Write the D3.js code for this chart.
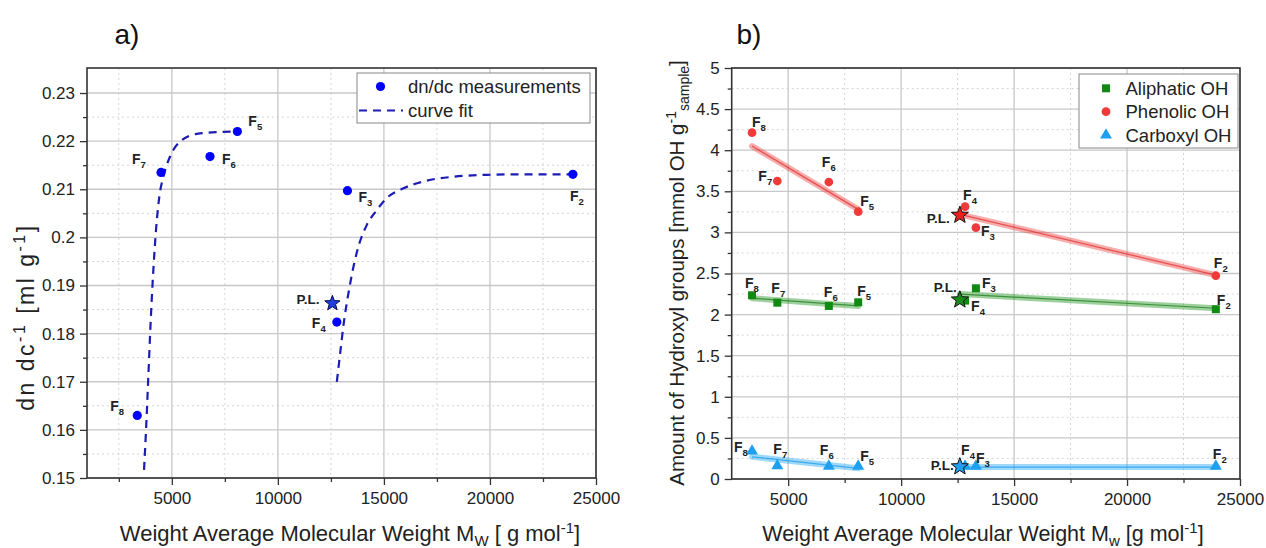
<!DOCTYPE html>
<html><head><meta charset="utf-8">
<script src="https://cdn.jsdelivr.net/npm/d3@7"></script>
<style>
body{margin:0;background:#fff;}
svg{display:block;font-family:Arial,"Liberation Sans",Helvetica,sans-serif;}
</style>
</head><body>
<svg id="chart" width="1266" height="548"></svg>
<script>
// ---------------- DATA: panel a ----------------
const fracA = ["2","3","4","5","6","7","8"];
const mwA = [23910, 13280, 12780, 8090, 6800, 4490, 3370];
const dndcA = [0.2131, 0.2097, 0.1824, 0.2220, 0.2168, 0.2135, 0.1630];
const plMwA = 12570;
const plDndcA = 0.1863;
const fit1Mw = [3689, 3784, 3892, 4005, 4128, 4255, 4411, 4600, 4916, 5388, 6176, 7275, 8060];
const fit1Y  = [0.1517, 0.1600, 0.1711, 0.1828, 0.1932, 0.2016, 0.2085, 0.2126, 0.2168, 0.2199, 0.2215, 0.2219, 0.2220];
const fit2Mw = [12780, 12936, 13125, 13328, 13564, 13847, 14196, 14668, 15140, 15923, 17027, 18282, 19858, 21428, 23900];
const fit2Y  = [0.1700, 0.1759, 0.1828, 0.1884, 0.1939, 0.1988, 0.2026, 0.2057, 0.2082, 0.2102, 0.2118, 0.2126, 0.2130, 0.2131, 0.2131];
const xTicksA = [5000, 10000, 15000, 20000, 25000];
const xTickLabelsA = ["5000", "10000", "15000", "20000", "25000"];
const xMinorA = [2500, 7500, 12500, 17500, 22500];
const yTicksA = [0.15, 0.16, 0.17, 0.18, 0.19, 0.20, 0.21, 0.22, 0.23];
const yTickLabelsA = ["0.15", "0.16", "0.17", "0.18", "0.19", "0.2", "0.21", "0.22", "0.23"];
const yMinorA = [0.155, 0.165, 0.175, 0.185, 0.195, 0.205, 0.215, 0.225];

// ---------------- DATA: panel b ----------------
const fracB = ["2","3","4","5","6","7","8"];
const mwB = [23930, 13310, 12830, 8100, 6800, 4520, 3400];
const aliphatic = [2.065, 2.320, 2.170, 2.150, 2.105, 2.145, 2.235];
const phenolic  = [2.473, 3.057, 3.313, 3.252, 3.613, 3.625, 4.213];
const carboxyl  = [0.155, 0.155, 0.155, 0.155, 0.155, 0.160, 0.340];
const plMwB = 12600;
const plAliphatic = 2.18, plPhenolic = 3.21, plCarboxyl = 0.15;
// linear-fit bands: [x1, y1, x2, y2]
const fitAliphatic = [[3400, 2.20, 8100, 2.105], [12600, 2.25, 23930, 2.077]];
const fitPhenolic  = [[3400, 4.05, 8100, 3.28], [12600, 3.22, 23930, 2.48]];
const fitCarboxyl  = [[3400, 0.27, 8100, 0.13], [12600, 0.145, 23930, 0.145]];
const xTicksB = [5000, 10000, 15000, 20000, 25000];
const xTickLabelsB = ["5000", "10000", "15000", "20000", "25000"];
const xMinorB = [7500, 12500, 17500, 22500];
const yTicksB = [0, 0.5, 1, 1.5, 2, 2.5, 3, 3.5, 4, 4.5, 5];
const yTickLabelsB = ["0", "0.5", "1", "1.5", "2", "2.5", "3", "3.5", "4", "4.5", "5"];
const yMinorB = [0.25, 0.75, 1.25, 1.75, 2.25, 2.75, 3.25, 3.75, 4.25, 4.75];

// ---------------- LAYOUT (label offsets in px, per fraction F2..F8) ----------------
const offA = [[-3, 27], [11, 11], [-25, 6], [11, -6], [12, 7], [-29, -8], [-27, -4]];
const offAli = [[1, -4], [6, 0], [6, 10], [-1, -6], [-5, -9], [-6, -10], [-7, -7]];
const offPhe = [[-2, -8], [5, 8], [-2, -7], [2, -6], [-7, -15], [-19, 0], [0, -6]];
const offCar = [[-3, -7], [0, -3], [-4, -11], [2, -5], [-9, -11], [-4, -12], [-18, 1]];

const svg = d3.select("#chart");
const TXT = "#222";

function fLabel(g, x, y, sub, size) {
  size = size || 14;
  const t = g.append("text").attr("x", x).attr("y", y)
    .attr("font-size", size).attr("font-weight", "bold").attr("fill", TXT);
  t.append("tspan").text("F");
  t.append("tspan").attr("font-size", size * 0.68).attr("dy", 4).text(sub);
}
function plLabel(g, x, y) {
  g.append("text").attr("x", x).attr("y", y).attr("font-size", 13.5)
    .attr("font-weight", "bold").attr("fill", TXT).text("P.L.");
}

function drawFrame(g, x, y, minorX, minorY, xt, xtl, yt, ytl, left, right, top, bottom) {
  g.append("g").selectAll("line").data(minorX).join("line")
    .attr("x1", d => x(d)).attr("x2", d => x(d)).attr("y1", top).attr("y2", bottom)
    .attr("stroke", "#d4d4d4").attr("stroke-dasharray", "2,3").attr("stroke-width", 1);
  g.append("g").selectAll("line").data(minorY).join("line")
    .attr("y1", d => y(d)).attr("y2", d => y(d)).attr("x1", left).attr("x2", right)
    .attr("stroke", "#d4d4d4").attr("stroke-dasharray", "2,3").attr("stroke-width", 1);
  g.append("g").selectAll("line").data(xt).join("line")
    .attr("x1", d => x(d)).attr("x2", d => x(d)).attr("y1", top).attr("y2", bottom)
    .attr("stroke", "#c8c8c8").attr("stroke-width", 1.3);
  g.append("g").selectAll("line").data(yt).join("line")
    .attr("y1", d => y(d)).attr("y2", d => y(d)).attr("x1", left).attr("x2", right)
    .attr("stroke", "#c8c8c8").attr("stroke-width", 1.3);
  const ax = g.append("g").attr("transform", `translate(0,${bottom})`)
    .call(d3.axisBottom(x).tickValues(xt).tickFormat((d, i) => xtl[i]).tickSize(7).tickPadding(7));
  const axm = g.append("g").attr("transform", `translate(0,${bottom})`)
    .call(d3.axisBottom(x).tickValues(minorX).tickFormat("").tickSize(4));
  const ay = g.append("g").attr("transform", `translate(${left},0)`)
    .call(d3.axisLeft(y).tickValues(yt).tickFormat((d, i) => ytl[i]).tickSize(7).tickPadding(5));
  const aym = g.append("g").attr("transform", `translate(${left},0)`)
    .call(d3.axisLeft(y).tickValues(minorY).tickFormat("").tickSize(4));
  [ax, axm, ay, aym].forEach(a => {
    a.select(".domain").remove();
    a.selectAll(".tick line").attr("stroke", "#333").attr("stroke-width", 1.3);
    a.selectAll("text").attr("font-size", 17).attr("fill", TXT).attr("font-family", "Arial, Liberation Sans, sans-serif");
  });
  g.append("rect").attr("x", left).attr("y", top).attr("width", right - left).attr("height", bottom - top)
    .attr("fill", "none").attr("stroke", "#333").attr("stroke-width", 1.6);
}

function star(cx, cy, r) {
  const pts = [];
  for (let i = 0; i < 10; i++) {
    const ang = -Math.PI / 2 + i * Math.PI / 5;
    const rr = i % 2 === 0 ? r : r * 0.42;
    pts.push([cx + rr * Math.cos(ang), cy + rr * Math.sin(ang)]);
  }
  return "M" + pts.map(p => p.join(",")).join("L") + "Z";
}

// ================= PANEL A =================
{
  const L = 87, R = 596, T = 68, B = 478;
  const x = d3.scaleLinear().domain([1000, 25000]).range([L, R]);
  const y = d3.scaleLinear().domain([0.15, 0.2352]).range([B, T]);
  const g = svg.append("g");
  drawFrame(g, x, y, xMinorA, yMinorA, xTicksA, xTickLabelsA, yTicksA, yTickLabelsA, L, R, T, B);

  const line = d3.line().x(d => x(d[0])).y(d => y(d[1])).curve(d3.curveMonotoneX);
  const fitStyle = p => p.attr("fill", "none").attr("stroke", "#1c1cb4").attr("stroke-width", 2.2).attr("stroke-dasharray", "8,6");
  g.append("path").datum(fit1Mw.map((m, i) => [m, fit1Y[i]])).attr("d", line).call(fitStyle);
  g.append("path").datum(fit2Mw.map((m, i) => [m, fit2Y[i]])).attr("d", line).call(fitStyle);

  g.append("g").selectAll("circle").data(mwA).join("circle")
    .attr("cx", d => x(d)).attr("cy", (d, i) => y(dndcA[i])).attr("r", 4.6).attr("fill", "#0000ff");
  g.append("path").attr("d", star(x(plMwA), y(plDndcA), 8)).attr("fill", "#1f3fe0").attr("stroke", "#0a0a50").attr("stroke-width", 1);

  mwA.forEach((m, i) => fLabel(g, x(m) + offA[i][0], y(dndcA[i]) + offA[i][1], fracA[i]));
  plLabel(g, x(plMwA) - 36, y(plDndcA) + 1);

  g.append("rect").attr("x", 357).attr("y", 73).attr("width", 233).attr("height", 50)
    .attr("fill", "#fff").attr("stroke", "#888").attr("stroke-width", 1);
  g.append("circle").attr("cx", 380.5).attr("cy", 86.5).attr("r", 4.6).attr("fill", "#0000ff");
  g.append("text").attr("x", 408).attr("y", 93).attr("font-size", 18.5).attr("fill", TXT).text("dn/dc measurements");
  g.append("line").attr("x1", 359).attr("x2", 403).attr("y1", 110.5).attr("y2", 110.5)
    .attr("stroke", "#1c1cb4").attr("stroke-width", 2.2).attr("stroke-dasharray", "8,6");
  g.append("text").attr("x", 408).attr("y", 117).attr("font-size", 18.5).attr("fill", TXT).text("curve fit");

  const xt = g.append("text").attr("x", 350).attr("y", 541).attr("text-anchor", "middle").attr("font-size", 22).attr("fill", TXT);
  xt.append("tspan").text("Weight Average Molecular Weight M");
  xt.append("tspan").attr("font-size", 15).attr("dy", 5).text("W");
  xt.append("tspan").attr("dy", -5).text(" [ g mol");
  xt.append("tspan").attr("font-size", 15).attr("dy", -8).text("-1");
  xt.append("tspan").attr("dy", 8).text("]");

  const yt = g.append("text").attr("transform", "translate(34,317) rotate(-90)").attr("text-anchor", "middle")
    .attr("font-size", 23).attr("letter-spacing", 2.5).attr("fill", TXT);
  yt.append("tspan").text("dn dc");
  yt.append("tspan").attr("font-size", 16).attr("dy", -9).text("-1");
  yt.append("tspan").attr("dy", 9).text(" [ml g");
  yt.append("tspan").attr("font-size", 16).attr("dy", -9).text("-1");
  yt.append("tspan").attr("dy", 9).text("]");

  g.append("text").attr("x", 127).attr("y", 44).attr("text-anchor", "middle").attr("font-size", 28).attr("fill", "#111").text("a)");
}

// ================= PANEL B =================
{
  const L = 731.7, R = 1240, T = 68, B = 479;
  const x = d3.scaleLinear().domain([2500, 25000]).range([L, R]);
  const y = d3.scaleLinear().domain([0, 5]).range([B, T]);
  const g = svg.append("g");
  drawFrame(g, x, y, xMinorB, yMinorB, xTicksB, xTickLabelsB, yTicksB, yTickLabelsB, L, R, T, B);

  const series = [
    {vals: aliphatic, pl: plAliphatic, fit: fitAliphatic, col: "#118a11", band: "rgba(40,150,40,0.45)", core: "rgba(20,120,20,0.7)", shape: "square", off: offAli, star: "#1a8a1a"},
    {vals: phenolic, pl: plPhenolic, fit: fitPhenolic, col: "#f03a3a", band: "rgba(240,70,70,0.45)", core: "rgba(220,40,40,0.7)", shape: "circle", off: offPhe, star: "#e82020"},
    {vals: carboxyl, pl: plCarboxyl, fit: fitCarboxyl, col: "#1e9ff0", band: "rgba(40,170,245,0.45)", core: "rgba(20,150,235,0.7)", shape: "triangle", off: offCar, star: "#1e9ff0"}
  ];
  series.forEach(s => {
    s.fit.forEach(f => {
      g.append("line").attr("x1", x(f[0])).attr("y1", y(f[1])).attr("x2", x(f[2])).attr("y2", y(f[3]))
        .attr("stroke", s.band).attr("stroke-width", 6).attr("stroke-linecap", "round");
      g.append("line").attr("x1", x(f[0])).attr("y1", y(f[1])).attr("x2", x(f[2])).attr("y2", y(f[3]))
        .attr("stroke", s.core).attr("stroke-width", 1.2);
    });
  });
  const sym = {square: d3.symbolSquare, circle: d3.symbolCircle, triangle: d3.symbolTriangle};
  const symSize = {square: 64, circle: 60, triangle: 62};
  series.forEach(s => {
    g.append("g").selectAll("path").data(mwB).join("path")
      .attr("transform", (d, i) => `translate(${x(d)},${y(s.vals[i])})`)
      .attr("d", d3.symbol().type(sym[s.shape]).size(symSize[s.shape]))
      .attr("fill", s.col);
    g.append("path").attr("d", star(x(plMwB), y(s.pl), 9)).attr("fill", s.star).attr("stroke", "#111").attr("stroke-width", 1);
  });
  series.forEach(s => {
    mwB.forEach((m, i) => fLabel(g, x(m) + s.off[i][0], y(s.vals[i]) + s.off[i][1], fracB[i]));
  });
  plLabel(g, x(plMwB) - 33, y(plPhenolic) + 8);
  plLabel(g, x(plMwB) - 26, y(plAliphatic) - 8);
  plLabel(g, x(plMwB) - 29, y(plCarboxyl) + 3);

  g.append("rect").attr("x", 1079).attr("y", 74).attr("width", 159).attr("height", 74)
    .attr("fill", "#fff").attr("stroke", "#888").attr("stroke-width", 1);
  const names = ["Aliphatic OH", "Phenolic OH", "Carboxyl OH"];
  series.forEach((s, i) => {
    const cy = 88.3 + i * 23.4;
    g.append("path").attr("transform", `translate(1106,${cy})`)
      .attr("d", d3.symbol().type(sym[s.shape]).size(symSize[s.shape])).attr("fill", s.col);
    g.append("text").attr("x", 1125.5).attr("y", cy + 6.5).attr("font-size", 18.5).attr("fill", TXT).text(names[i]);
  });

  const xt = g.append("text").attr("x", 983).attr("y", 541).attr("text-anchor", "middle").attr("font-size", 21.5).attr("fill", TXT);
  xt.append("tspan").text("Weight Average Molecular Weight M");
  xt.append("tspan").attr("font-size", 15).attr("dy", 5).text("w");
  xt.append("tspan").attr("dy", -5).text(" [g mol");
  xt.append("tspan").attr("font-size", 15).attr("dy", -8).text("-1");
  xt.append("tspan").attr("dy", 8).text("]");

  const yt = g.append("text").attr("transform", "translate(684,273) rotate(-90)").attr("text-anchor", "middle").attr("font-size", 20.5).attr("fill", TXT);
  yt.append("tspan").text("Amount of Hydroxyl groups [mmol OH g");
  yt.append("tspan").attr("font-size", 14).attr("dy", -8).text("-1");
  yt.append("tspan").attr("font-size", 14).attr("dy", 13).text("sample");
  yt.append("tspan").attr("dy", -5).text("]");

  g.append("text").attr("x", 749).attr("y", 44).attr("text-anchor", "middle").attr("font-size", 28).attr("fill", "#111").text("b)");
}
</script>
</body></html>
